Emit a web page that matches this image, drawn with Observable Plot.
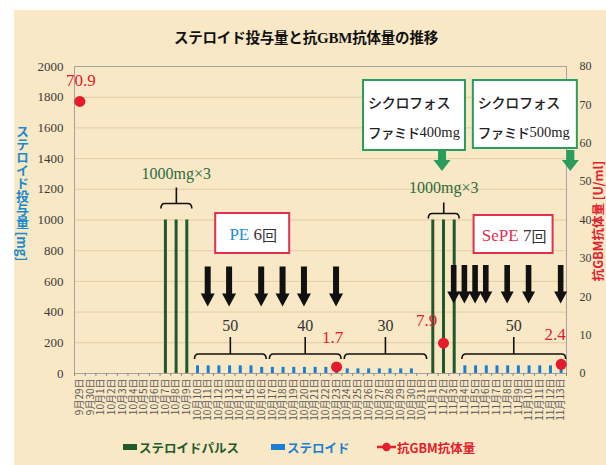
<!DOCTYPE html>
<html lang="ja">
<head>
<meta charset="utf-8">
<script src="https://cdn.jsdelivr.net/npm/d3@7"></script>
<script src="https://cdn.jsdelivr.net/npm/@observablehq/plot@0.6"></script>
<style>
  html, body { margin: 0; padding: 0; background: #fff; }
  #page { position: relative; width: 606px; height: 465px; overflow: hidden;
          font-family: "Noto Sans CJK JP", "Noto Sans", sans-serif; }
  #panel { position: absolute; left: 14px; top: 10px; width: 592px; height: 455px; background: #f8e8c6; }
  #chart { position: absolute; left: 0; top: 0; }
  #chart svg { display: block; }
  #title { position: absolute; left: 0; top: 26px; width: 612px; text-align: center;
           font-size: 14.5px; font-weight: 700; color: #111; line-height: 22px; letter-spacing: -0.2px; }
  #title .latin { font-family: "Liberation Serif", serif; font-weight: 700; font-size: 15px; }
  .ytitle { position: absolute; font-weight: 700; font-size: 12.5px; white-space: nowrap; line-height: 14px; }
  #ytitle-left { left: 22px; top: 193px; writing-mode: vertical-rl; color: #1a8bd0;
                 transform: translate(-50%, -50%); font-size: 13px; }
  #ytitle-right { left: 598px; top: 221px; color: #e3202e; transform: translate(-50%, -50%) rotate(-90deg); }
  .legend-item { position: absolute; top: 438px; height: 18px; display: flex; align-items: center;
                 font-size: 12.5px; font-weight: 700; white-space: nowrap; }
  .swatch { display: inline-block; width: 14px; height: 6px; margin-right: 2px; }
</style>
</head>
<body>
<div id="page">
  <div id="panel"></div>
  <div id="chart"></div>
  <div id="title">ステロイド投与量と抗<span class="latin">GBM</span>抗体量の推移</div>
  <div class="ytitle" id="ytitle-left">ステロイド投与量 [mg]</div>
  <div class="ytitle" id="ytitle-right">抗GBM抗体量 [U/ml]</div>
  <div id="legend"></div>
</div>
<script>
// Daily categories along the x axis
const dates = [
  "9月29日","9月30日","10月1日","10月2日","10月3日","10月4日","10月5日","10月6日",
  "10月7日","10月8日","10月9日","10月10日","10月11日","10月12日","10月13日","10月14日",
  "10月15日","10月16日","10月17日","10月18日","10月19日","10月20日","10月21日","10月22日",
  "10月23日","10月24日","10月25日","10月26日","10月27日","10月28日","10月29日","10月30日",
  "10月31日","11月1日","11月2日","11月3日","11月4日","11月5日","11月6日","11月7日",
  "11月8日","11月9日","11月10日","11月11日","11月12日","11月13日"
];

// Steroid pulse (mg/day)
const pulseDose = [
  null, null, null, null, null, null, null, null, 1000, 1000, 1000, null,
  null, null, null, null, null, null, null, null, null, null, null, null,
  null, null, null, null, null, null, null, null, null, 1000, 1000, 1000,
  null, null, null, null, null, null, null, null, null, null
];

// Oral steroid (mg/day)
const steroidDose = [
  null, null, null, null, null, null, null, null, null, null, null, 50,
  50, 50, 50, 50, 50, 40, 40, 40, 40, 40, 40, 40,
  30, 30, 30, 30, 30, 30, 30, 30, null, null, null, null,
  50, 50, 50, 50, 50, 50, 50, 50, 50, 50
];

// Anti-GBM antibody (U/ml)
const gbmLevel = [
  70.9, null, null, null, null, null, null, null, null, null, null, null,
  null, null, null, null, null, null, null, null, null, null, null, null,
  1.7, null, null, null, null, null, null, null, null, null, 7.9, null,
  null, null, null, null, null, null, null, null, null, 2.4
];

// Axis tick values
const leftTicks = [0, 200, 400, 600, 800, 1000, 1200, 1400, 1600, 1800, 2000];
const rightTicks = [0, 10, 20, 30, 40, 50, 60, 70, 80];

// Treatment annotations (day indexes into dates)
const pulseCourses = [
  {from: 8, to: 10, dose: 1000, text: "1000mg×3"},
  {from: 33, to: 35, dose: 1000, text: "1000mg×3"}
];
const taperSteps = [
  {from: 11, to: 17, text: "50"},
  {from: 18, to: 24, text: "40"},
  {from: 25, to: 32, text: "30"},
  {from: 36, to: 45, text: "50"}
];
const peDays = [12, 14, 17, 19, 21, 24];
const sepeDays = [35, 36, 37, 38, 40, 42, 45];
const cycloDays = [34, 46];
const cycloLines = [["シクロフォス", "ファミド", "400mg"], ["シクロフォス", "ファミド", "500mg"]];

const gbmPerMg = 80 / 2000; // right axis 0–80 U/ml shares the 0–2000 mg frame
const serif = "'Liberation Serif', 'DejaVu Serif', serif";
const gothic = "'Noto Sans CJK JP', sans-serif";

const rows = dates.map((date, i) => ({
  i, date, pulse: pulseDose[i], steroid: steroidDose[i], gbm: gbmLevel[i]
}));
const gbmRows = rows.filter(d => d.gbm != null);

function blockArrow(g, cx, top, tip, shaft, head, headLen, fill) {
  const h = tip - headLen;
  g.append("path")
    .attr("d", `M${cx - shaft},${top}H${cx + shaft}V${h}H${cx + head}L${cx},${tip}L${cx - head},${h}H${cx - shaft}Z`)
    .attr("fill", fill);
}

function bracket(g, x1, x2, yb, stemTop, depth) {
  const xm = (x1 + x2) / 2;
  g.append("path")
    .attr("d", `M${x1},${yb + depth}Q${x1},${yb} ${x1 + 4},${yb}H${x2 - 4}Q${x2},${yb} ${x2},${yb + depth}M${xm},${yb}V${stemTop}`)
    .attr("fill", "none").attr("stroke", "#111").attr("stroke-width", 1.6);
}

// Brackets, call-out boxes and arrows, placed with the chart's own scales
function annotations(index, scales) {
  const {x, y} = scales;
  const g = d3.create("svg:g").attr("text-anchor", "start");

  // Pulse courses
  const pulseLift = [16, 6], pulseStem = [16, 11], pulseLabel = [14, 15];
  pulseCourses.forEach((c, k) => {
    const x1 = x(c.from) - 4, x2 = x(c.to) + 5.5;
    const yb = y(c.dose) - pulseLift[k];
    bracket(g, x1, x2, yb, yb - pulseStem[k], 5);
    g.append("text").attr("x", (x1 + x2) / 2).attr("y", yb - pulseStem[k] - pulseLabel[k])
      .attr("text-anchor", "middle").attr("dominant-baseline", "central")
      .attr("font-family", serif).attr("font-size", 16).attr("fill", "#2f6b3d")
      .text(c.text);
  });

  // Oral steroid taper steps
  taperSteps.forEach(s => {
    const x1 = x(s.from) - 2.5, x2 = Math.min(x(s.to) + 5, x(dates.length - 0.5) + 2);
    const yb = y(0) - 19;
    bracket(g, x1, x2, yb, yb - 17, 5);
    g.append("text").attr("x", (x1 + x2) / 2).attr("y", yb - 29)
      .attr("text-anchor", "middle").attr("dominant-baseline", "central")
      .attr("font-family", serif).attr("font-size", 16).attr("fill", "#333")
      .text(s.text);
  });

  // Plasma exchange sessions
  peDays.forEach(d => blockArrow(g, x(d), 266.5, 306.5, 3, 7, 13, "#111"));
  sepeDays.forEach(d => blockArrow(g, x(d), 265, 303.5, 2.8, 6.5, 12, "#111"));

  // PE / SePE boxes
  const boxes = [
    {left: x(peDays[0]) + 7.5, top: 213, w: 74, h: 40, head: "PE", headFill: "#1b8fd6", tail: "6回"},
    {left: x(sepeDays[2]) - 1.5, top: 215, w: 79, h: 38, head: "SePE", headFill: "#e2304e", tail: "7回"}
  ];
  boxes.forEach(b => {
    g.append("rect").attr("x", b.left).attr("y", b.top).attr("width", b.w).attr("height", b.h)
      .attr("fill", "#fff").attr("stroke", "#e2304e").attr("stroke-width", 2);
    const t = g.append("text").attr("x", b.left + b.w / 2 + 1).attr("y", b.top + b.h / 2 + 1)
      .attr("text-anchor", "middle").attr("dominant-baseline", "central").attr("font-size", 17);
    t.append("tspan").attr("font-family", serif).attr("fill", b.headFill).text(b.head + " ");
    t.append("tspan").attr("font-family", serif).attr("fill", "#333").text(b.tail.slice(0, 1));
    t.append("tspan").attr("font-family", gothic).attr("font-size", 15).attr("fill", "#333").text(b.tail.slice(1));
  });

  // Cyclophosphamide call-outs
  const cyclo = [
    {left: x(cycloDays[0]) - 80, w: 102, h: 70},
    {left: x(cycloDays[1]) - 98.5, w: 104, h: 68}
  ];
  cyclo.forEach((c, k) => {
    g.append("rect").attr("x", c.left).attr("y", 80).attr("width", c.w).attr("height", c.h)
      .attr("fill", "#fff").attr("stroke", "#2a9d5c").attr("stroke-width", 2);
    const [l1, l2, dose] = cycloLines[k];
    g.append("text").attr("x", c.left + 5).attr("y", 102).attr("dominant-baseline", "central")
      .attr("text-anchor", "start").attr("letter-spacing", -0.3)
      .attr("font-family", gothic).attr("font-size", 14).attr("font-weight", 500).attr("fill", "#222")
      .text(l1);
    const t = g.append("text").attr("x", c.left + 5).attr("y", 132).attr("dominant-baseline", "central")
      .attr("text-anchor", "start").attr("fill", "#222");
    t.append("tspan").attr("font-family", gothic).attr("font-size", 13.5).attr("font-weight", 500)
      .attr("letter-spacing", -0.6).text(l2);
    t.append("tspan").attr("font-family", serif).attr("font-size", 14.5).text(dose);
    blockArrow(g, x(cycloDays[k]) - 1, 150, 171, 4, 8.5, 11, "#2a9d5c");
  });

  return g.node();
}

const gbmLabelShift = [[1, -21], [-4, -29], [-17, -23], [-6, -30]];

const chart = Plot.plot({
  width: 606,
  height: 465,
  marginTop: 66,
  marginRight: 40,
  marginBottom: 92,
  marginLeft: 74,
  style: {background: "transparent", overflow: "visible"},
  x: {type: "linear", domain: [-0.5, dates.length - 0.5]},
  y: {domain: [0, 2000]},
  marks: [
    Plot.gridY(leftTicks.filter(v => v > 0), {stroke: "#e2cda5", strokeOpacity: 1}),
    Plot.frame({stroke: "#a3a3a3"}),
    Plot.axisY({ticks: leftTicks, tickFormat: v => String(v), tickSize: 0, tickPadding: 11, fontSize: 13,
                fontFamily: serif, fill: "#3a3a3a", label: null}),
    Plot.axisY({anchor: "right", ticks: rightTicks.map(v => v / gbmPerMg),
                tickFormat: v => String(Math.round(v * gbmPerMg)), tickSize: 0, tickPadding: 13,
                fontSize: 12, fontFamily: serif, fill: "#3a3a3a", label: null}),
    Plot.axisX({ticks: d3.range(dates.length + 1).map(i => i - 0.5), tickSize: 3,
                tickFormat: () => "", stroke: "#888", label: null}),
    Plot.axisX({ticks: d3.range(dates.length), tickFormat: i => dates[i], tickRotate: -90,
                tickSize: 0, tickPadding: 5, fontSize: 10, fontFamily: gothic, fill: "#5a5a5a", label: null}),
    Plot.ruleX(rows.filter(d => d.pulse != null), {x: "i", y1: 0, y2: "pulse", stroke: "#1e5a2c", strokeWidth: 3}),
    Plot.ruleX(rows.filter(d => d.steroid != null), {x: "i", y1: 0, y2: "steroid", stroke: "#1a7fd0", strokeWidth: 3}),
    annotations,
    Plot.dot(gbmRows, {x: "i", y: d => d.gbm / gbmPerMg, r: 5.5, fill: "#e51b2c"}),
    ...gbmRows.map((d, k) => Plot.text([d], {
      x: "i", y: d => d.gbm / gbmPerMg, text: d => d.gbm.toFixed(1),
      dx: gbmLabelShift[k][0], dy: gbmLabelShift[k][1],
      fontFamily: serif, fontSize: 17, fill: "#e51b2c"
    }))
  ]
});
document.getElementById("chart").append(chart);

// Legend under the chart
const legendItems = [
  {left: 123, color: "#1e5a2c", text: "ステロイドパルス", kind: "bar"},
  {left: 271, color: "#1a7fd0", text: "ステロイド", kind: "bar"},
  {left: 377, color: "#e3202e", text: "抗GBM抗体量", kind: "line"}
];
const legend = document.getElementById("legend");
legendItems.forEach(it => {
  const el = document.createElement("div");
  el.className = "legend-item";
  el.style.left = it.left + "px";
  el.style.color = it.color;
  if (it.kind === "bar") {
    el.innerHTML = `<span class="swatch" style="background:${it.color}"></span>`;
  } else {
    el.innerHTML = `<svg width="19" height="10" style="margin-right:1px"><line x1="0" y1="5" x2="19" y2="5" stroke="${it.color}" stroke-width="2.5"/><circle cx="9.5" cy="5" r="4.2" fill="${it.color}"/></svg>`;
  }
  el.append(it.text);
  legend.append(el);
});
</script>
</body>
</html>
